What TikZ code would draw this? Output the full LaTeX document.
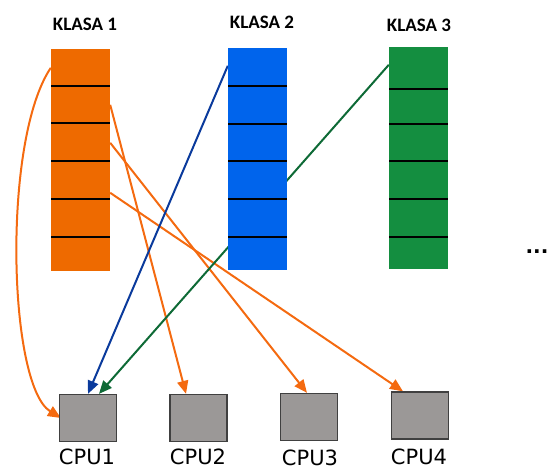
\documentclass[tikz,border=0pt]{standalone}
\usepackage{fontspec}
\setmainfont{Carlito}
\newfontfamily\cpufont{DejaVu Sans}
\usetikzlibrary{arrows.meta,backgrounds}
\definecolor{klasaorange}{HTML}{EE6A00}
\definecolor{klasablue}{HTML}{0064EC}
\definecolor{klasagreen}{HTML}{148E40}
\definecolor{linkorange}{HTML}{F46A10}
\definecolor{linkblue}{HTML}{0A3A9C}
\definecolor{linkgreen}{HTML}{0E6A36}
\definecolor{cpugray}{HTML}{9B9897}
\definecolor{cpuedge}{HTML}{404040}
\tikzset{
  kolumna/.style={rectangle,minimum width=59pt,minimum height=222pt,inner sep=0pt},
  procesor/.style={rectangle,draw=cpuedge,fill=cpugray,line width=1.3pt,minimum width=57pt,minimum height=47pt,inner sep=0pt},
  strzalka/.style={line width=2pt,-{Triangle[length=13pt,width=11pt]}},
  tytul/.style={font=\fontsize{19}{19}\selectfont\bfseries},
  opis/.style={font=\cpufont\fontsize{21}{21}\selectfont,anchor=base,inner sep=0pt}
}

\begin{document}
\begin{tikzpicture}[x=1pt,y=-1pt]
			%%%%% START %%%%%
			\useasboundingbox (0,0) rectangle (551,470);
			
			\node[tytul] (t1) at (85,24) {KLASA 1};
			\node[tytul] (t2) at (262,22) {KLASA 2};
			\node[tytul] (t3) at (419,25) {KLASA 3};
			
			\node[kolumna, fill=klasaorange] (klasa1) at (80.5,160) {};
			\node[kolumna, fill=klasablue] (klasa2) at (257.5,159) {};
			\node[kolumna, fill=klasagreen] (klasa3) at (418.5,158) {};
			
			\foreach \y in {86,123,161,199,237}
				\draw[line width=1.8pt] (51,\y) -- (110,\y);
			\foreach \y in {86,124,161,199,237}
				\draw[line width=1.8pt] (228,\y) -- (287,\y);
			\foreach \y in {89,124,161,199,237}
				\draw[line width=1.8pt] (389,\y) -- (448,\y);
			
			\node[font=\cpufont\bfseries\fontsize{20}{20}\selectfont] (dots) at (537,252) {...};
			
			\node[procesor] (cpu1) at (88,418) {};
			\node[procesor] (cpu2) at (198.5,418) {};
			\node[procesor] (cpu3) at (309,417) {};
			\node[procesor] (cpu4) at (420,415.5) {};
			
			\node[opis] (l1) at (87,464.5) {CPU1};
			\node[opis] (l2) at (198,464.5) {CPU2};
			\node[opis] (l3) at (310,465) {CPU3};
			\node[opis] (l4) at (419,464) {CPU4};
			
			\coordinate (o1) at ([yshift=-19pt]klasa1.north west);
			\coordinate (o2) at ([yshift=-56pt]klasa1.north east);
			\coordinate (o3) at ([yshift=-94pt]klasa1.north east);
			\coordinate (o4) at ([yshift=-144pt]klasa1.north east);
			\coordinate (b1) at ([yshift=-18pt]klasa2.north west);
			\coordinate (g1) at ([yshift=-18pt]klasa3.north west);
			
			\begin{scope}[on background layer]
				\draw[strzalka, linkorange] (o1) .. controls (2,140) and (8,385) .. ([xshift=2pt]cpu1.west);
				\draw[strzalka, linkorange] (o2) -- ([xshift=-12.5pt]cpu2.north);
				\draw[strzalka, linkorange] (o3) -- ([xshift=-2pt]cpu3.north);
				\draw[strzalka, linkorange] (o4) -- ([xshift=-17pt]cpu4.north);
				\draw[strzalka, linkgreen] (g1) -- ([xshift=11pt]cpu1.north);
				\draw[strzalka, linkblue] (b1) -- (cpu1.north);
			\end{scope}
			
			%%%%% END %%%%%
\end{tikzpicture}
\end{document}
